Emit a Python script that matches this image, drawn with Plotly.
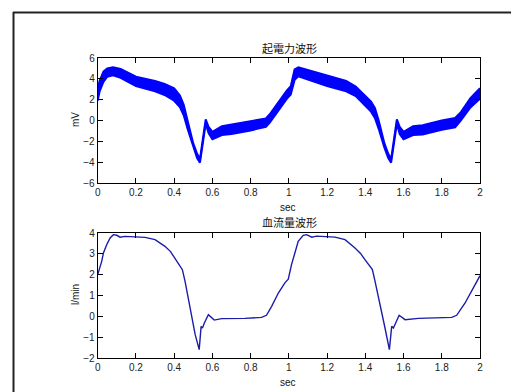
import plotly.graph_objects as go

# ---- data: EMF waveform (mV), band envelope ----
emf_t = [0, 0.01, 0.03, 0.05, 0.08, 0.12, 0.2, 0.3, 0.35, 0.4, 0.43, 0.45, 0.47, 0.5, 0.52, 0.535,
         0.55, 0.565, 0.58, 0.6, 0.65, 0.7, 0.8, 0.88, 0.9, 0.95, 0.99, 1.01, 1.03, 1.05,
         1.1, 1.2, 1.3, 1.35, 1.4, 1.43, 1.45, 1.47, 1.5, 1.52, 1.535, 1.55, 1.565, 1.58, 1.6,
         1.65, 1.7, 1.8, 1.87, 1.9, 1.95, 2.0]
emf_upper = [3.0, 3.8, 4.7, 5.0, 5.1, 4.95, 4.2, 3.8, 3.5, 3.1, 2.4, 1.5, 0.0, -2.2, -3.2, -3.7,
             -1.8, 0.1, -0.6, -1.1, -0.55, -0.4, -0.05, 0.2, 0.6, 1.9, 2.9, 3.3, 4.9, 5.1,
             4.85, 4.3, 3.8, 3.25, 2.4, 1.8, 1.2, 0.0, -2.2, -3.2, -3.7, -1.8, 0.1, -0.6, -1.1,
             -0.55, -0.45, 0.0, 0.25, 0.8, 2.15, 3.1]
emf_lower = [1.9, 2.8, 3.7, 4.2, 4.35, 4.1, 3.3, 2.8, 2.45, 1.9, 1.3, 0.5, -0.8, -2.6, -3.6, -4.05,
             -2.2, -0.3, -1.2, -1.8, -1.4, -1.3, -0.95, -0.6, -0.2, 1.1, 2.1, 2.5, 3.9, 4.25,
             3.95, 3.3, 2.8, 2.35, 1.4, 0.85, 0.25, -0.8, -2.6, -3.6, -4.05, -2.2, -0.3, -1.3, -1.8,
             -1.4, -1.35, -0.9, -0.65, 0.0, 1.25, 2.1]

# ---- data: blood flow waveform (l/min) ----
flow_t = [0, 0.021, 0.03, 0.047, 0.065, 0.082, 0.1, 0.117, 0.143, 0.248, 0.3, 0.352,
          0.38, 0.404, 0.425, 0.443, 0.457, 0.474, 0.492, 0.51, 0.531, 0.541, 0.548, 0.558, 0.579,
          0.596, 0.61, 0.648, 0.77, 0.857, 0.883, 0.91, 0.945, 0.98, 0.997, 1.014,
          1.032, 1.049, 1.075, 1.093, 1.12, 1.145, 1.241, 1.294, 1.346, 1.375, 1.398, 1.42, 1.437,
          1.451, 1.477, 1.503, 1.526, 1.538, 1.547, 1.556, 1.577, 1.608, 1.678, 1.852,
          1.878, 1.922, 1.957, 2.0]
flow_v = [2.0, 2.64, 3.04, 3.44, 3.76, 3.92, 3.89, 3.8, 3.84, 3.79, 3.68, 3.36,
          3.12, 2.8, 2.52, 2.24, 1.68, 0.8, -0.08, -0.88, -1.6, -0.48, -0.56, -0.32, 0.08,
          -0.08, -0.18, -0.11, -0.1, -0.05, 0.05, 0.48, 1.12, 1.62, 1.78, 2.48,
          3.12, 3.6, 3.89, 3.92, 3.8, 3.85, 3.8, 3.68, 3.28, 3.02, 2.72, 2.45, 2.24,
          1.68, 0.64, -0.56, -1.6, -0.48, -0.56, -0.4, 0.05, -0.16, -0.1, -0.05,
          0.05, 0.64, 1.2, 1.95]

x_ticks = [0, 0.2, 0.4, 0.6, 0.8, 1, 1.2, 1.4, 1.6, 1.8, 2]
x_tick_text = ["0", "0.2", "0.4", "0.6", "0.8", "1", "1.2", "1.4", "1.6", "1.8", "2"]
emf_ticks = [-6, -4, -2, 0, 2, 4, 6]
flow_ticks = [-2, -1, 0, 1, 2, 3, 4]
title_top = "起電力波形"
title_bottom = "血流量波形"
x_label = "sec"
y_label_top = "mV"
y_label_bottom = "l/min"

# the page body has an 8px default margin, so the figure is placed at (8, 8)
OFF = 8
W, H = 519 - OFF, 392 - OFF
px = lambda x: (x - OFF) / W
py = lambda y: 1 - (y - OFF) / H

fig = go.Figure()
BLUE = "#0000ff"
fig.add_trace(go.Scatter(x=emf_t, y=emf_lower, mode="lines",
                         line=dict(color=BLUE, width=2), xaxis="x", yaxis="y",
                         showlegend=False, hoverinfo="skip"))
fig.add_trace(go.Scatter(x=emf_t, y=emf_upper, mode="lines", fill="tonexty",
                         fillcolor=BLUE, line=dict(color=BLUE, width=2),
                         xaxis="x", yaxis="y", showlegend=False))
fig.add_trace(go.Scatter(x=flow_t, y=flow_v, mode="lines",
                         line=dict(color="#1c1ca8", width=1.4),
                         xaxis="x2", yaxis="y2", showlegend=False))

tickfont = dict(family="Liberation Sans, Arial, sans-serif", size=10, color="#222")
xdom = [px(97.7), px(480)]
common_x = dict(range=[0, 2], tickvals=x_ticks, ticktext=x_tick_text, ticks="inside",
                ticklen=5, tickcolor="black", showline=True, linecolor="black",
                linewidth=1, mirror="ticks", showgrid=False, zeroline=False,
                tickfont=tickfont, automargin=False, domain=xdom)
common_y = dict(ticks="inside", ticklen=5, tickcolor="black", showline=True,
                linecolor="black", linewidth=1, mirror="ticks", showgrid=False,
                zeroline=False, tickfont=tickfont, automargin=False)

fig.update_layout(
    width=W, height=H,
    margin=dict(l=0, r=0, t=0, b=0),
    paper_bgcolor="white", plot_bgcolor="white",
    xaxis=dict(**common_x, anchor="y"),
    yaxis=dict(**common_y, range=[-6, 6], tickvals=emf_ticks,
               domain=[py(183), py(58)], anchor="x"),
    xaxis2=dict(**common_x, anchor="y2"),
    yaxis2=dict(**common_y, range=[-2, 4], tickvals=flow_ticks,
                domain=[py(358), py(233)], anchor="x2"),
)

cjk = dict(family="Noto Sans CJK JP", size=11, color="#111")
lab = dict(family="Liberation Sans, Arial, sans-serif", size=10, color="#111")
anns = [
    dict(text=title_top, x=px(289), y=py(48), font=cjk),
    dict(text=title_bottom, x=px(289), y=py(222), font=cjk),
    dict(text=x_label, x=px(288), y=py(207), font=lab),
    dict(text=x_label, x=px(288), y=py(382), font=lab),
    dict(text=y_label_top, x=px(75), y=py(120), font=lab, textangle=-90),
    dict(text=y_label_bottom, x=px(75), y=py(295), font=lab, textangle=-90),
]
for a in anns:
    fig.add_annotation(xref="paper", yref="paper", showarrow=False,
                       xanchor="center", yanchor="middle", **a)

# figure-window frame (left and top edges)
fig.add_shape(type="line", xref="paper", yref="paper", x0=px(13.5), x1=px(13.5),
              y0=0, y1=py(12), line=dict(color="#222", width=2))
fig.add_shape(type="line", xref="paper", yref="paper", x0=px(13), x1=1,
              y0=py(12.5), y1=py(12.5), line=dict(color="#222", width=2))

fig.write_html("out.html")
